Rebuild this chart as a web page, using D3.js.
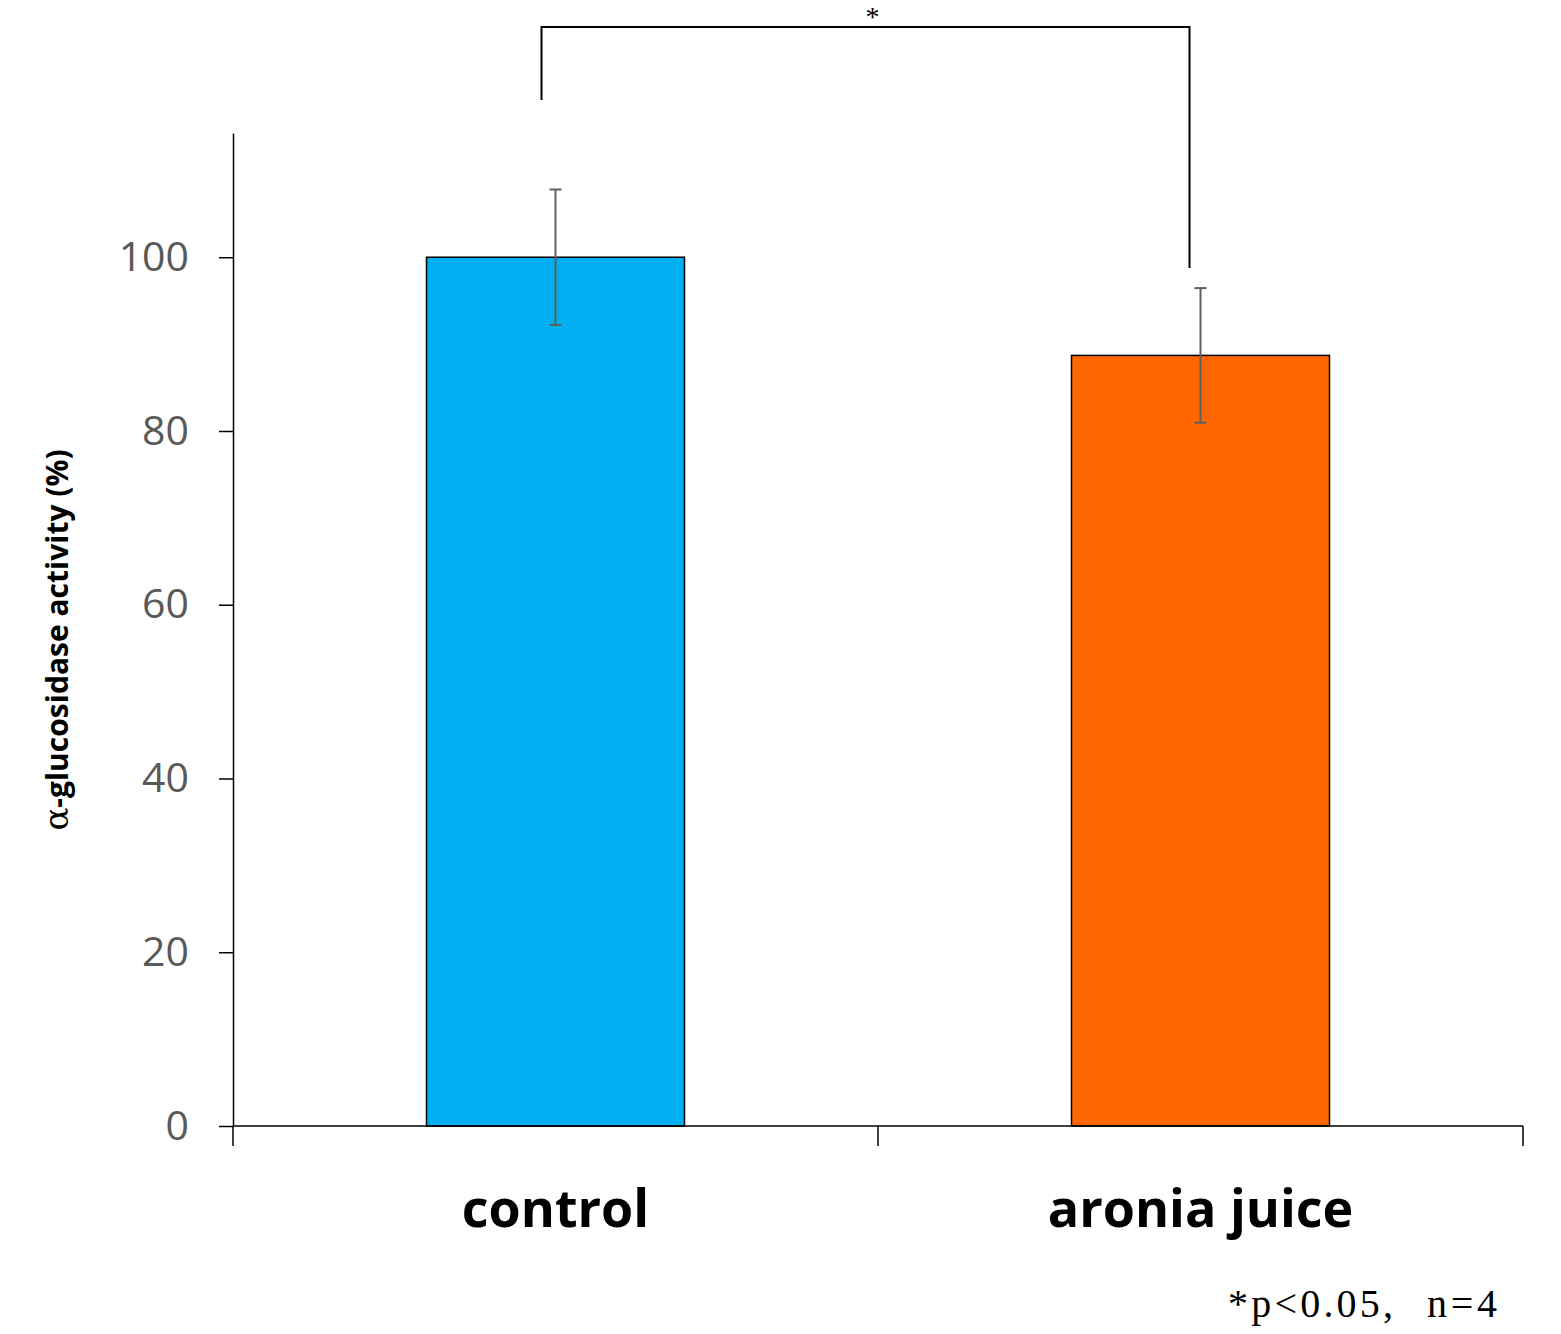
<!DOCTYPE html>
<html>
<head>
<meta charset="utf-8">
<script src="https://cdn.jsdelivr.net/npm/d3@7"></script>
<style>
  body { margin: 0; background: #fff; }
  svg { display: block; }
</style>
</head>
<body>
<div id="chart"></div>
<script>
// data
const groups = ["control", "aronia juice"];
const means = [100, 88.7];
const errors = [7.8, 7.75];
const barColors = ["#00b0f0", "#ff6600"];
const yTicks = [0, 20, 40, 60, 80, 100];

const W = 1561, H = 1334;
const margin = {top: 133, right: 38, bottom: 208, left: 233};
const font = "'Open Sans', sans-serif";
const serif = "'Liberation Serif', 'DejaVu Serif', serif";

const svg = d3.select("#chart").append("svg")
  .attr("width", W).attr("height", H)
  .style("font-family", font);

const x = d3.scaleBand()
  .domain(groups)
  .range([margin.left, W - margin.right])
  .paddingInner(0.6).paddingOuter(0.3);

const y = d3.scaleLinear()
  .domain([0, 114.3])
  .range([H - margin.bottom, margin.top]);

// bars
svg.selectAll("rect.bar")
  .data(groups)
  .join("rect")
  .attr("class", "bar")
  .attr("x", d => x(d))
  .attr("y", (d, i) => y(means[i]))
  .attr("width", x.bandwidth())
  .attr("height", (d, i) => y(0) - y(means[i]))
  .attr("fill", (d, i) => barColors[i])
  .attr("stroke", "#000")
  .attr("stroke-width", 1.5);

// error bars
const eb = svg.selectAll("g.err")
  .data(groups)
  .join("g")
  .attr("class", "err")
  .attr("stroke", "#5f5f5f")
  .attr("stroke-width", 2);

eb.append("line")
  .attr("x1", d => x(d) + x.bandwidth() / 2)
  .attr("x2", d => x(d) + x.bandwidth() / 2)
  .attr("y1", (d, i) => y(means[i] + errors[i]))
  .attr("y2", (d, i) => y(means[i] - errors[i]));

[1, -1].forEach(s => {
  eb.append("line")
    .attr("x1", d => x(d) + x.bandwidth() / 2 - 6)
    .attr("x2", d => x(d) + x.bandwidth() / 2 + 6)
    .attr("y1", (d, i) => y(means[i] + s * errors[i]))
    .attr("y2", (d, i) => y(means[i] + s * errors[i]));
});

// y axis
const yAxis = svg.append("g")
  .attr("transform", `translate(${margin.left},0)`)
  .call(d3.axisLeft(y).tickValues(yTicks).tickSize(14).tickPadding(30).tickSizeOuter(0));
yAxis.select(".domain").attr("stroke", "#000").attr("stroke-width", 1.5);
yAxis.selectAll(".tick line").attr("stroke", "#000").attr("stroke-width", 1.5);
yAxis.selectAll(".tick text")
  .attr("fill", "#595959")
  .style("font-size", "41px")
  .style("font-family", font);

// x axis
const xEdges = [margin.left, (margin.left + W - margin.right) / 2, W - margin.right];
svg.append("line")
  .attr("x1", margin.left).attr("x2", W - margin.right)
  .attr("y1", y(0)).attr("y2", y(0))
  .attr("stroke", "#000").attr("stroke-width", 1.5);
svg.selectAll("line.xtick")
  .data(xEdges)
  .join("line")
  .attr("class", "xtick")
  .attr("x1", d => d).attr("x2", d => d)
  .attr("y1", y(0)).attr("y2", y(0) + 20)
  .attr("stroke", "#000").attr("stroke-width", 1.5);

svg.selectAll("text.cat")
  .data(groups)
  .join("text")
  .attr("class", "cat")
  .attr("x", d => x(d) + x.bandwidth() / 2)
  .attr("y", 1227)
  .attr("text-anchor", "middle")
  .style("font-size", "52px")
  .style("font-weight", "bold")
  .text(d => d);

// y axis title
const yt = svg.append("text")
  .attr("transform", `translate(68,640) rotate(-90)`)
  .attr("text-anchor", "middle")
  .style("font-size", "30px")
  .style("font-weight", "bold");
yt.append("tspan").style("font-family", "'DejaVu Serif', serif").style("font-weight", "normal").style("font-size", "34px").text("\u03b1");
yt.append("tspan").text("-glucosidase activity (%)");

// significance bracket
const xc0 = x(groups[0]) + x.bandwidth() / 2 - 14;
const xc1 = x(groups[1]) + x.bandwidth() / 2 - 11;
svg.append("path")
  .attr("d", `M${xc0},100 V27 H${xc1} V268`)
  .attr("fill", "none")
  .attr("stroke", "#000")
  .attr("stroke-width", 2);
svg.append("text")
  .attr("x", (xc0 + xc1) / 2 + 7)
  .attr("y", 26)
  .attr("text-anchor", "middle")
  .style("font-size", "28px")
  .style("font-family", serif)
  .text("*");

// footnote
svg.append("text")
  .attr("x", 1228)
  .attr("y", 1317)
  .attr("textLength", 165)
  .attr("lengthAdjust", "spacing")
  .style("font-size", "40px")
  .style("font-family", serif)
  .text("*p<0.05,");
svg.append("text")
  .attr("x", 1427)
  .attr("y", 1317)
  .attr("textLength", 70)
  .attr("lengthAdjust", "spacing")
  .style("font-size", "40px")
  .style("font-family", serif)
  .text("n=4");
</script>
</body>
</html>
